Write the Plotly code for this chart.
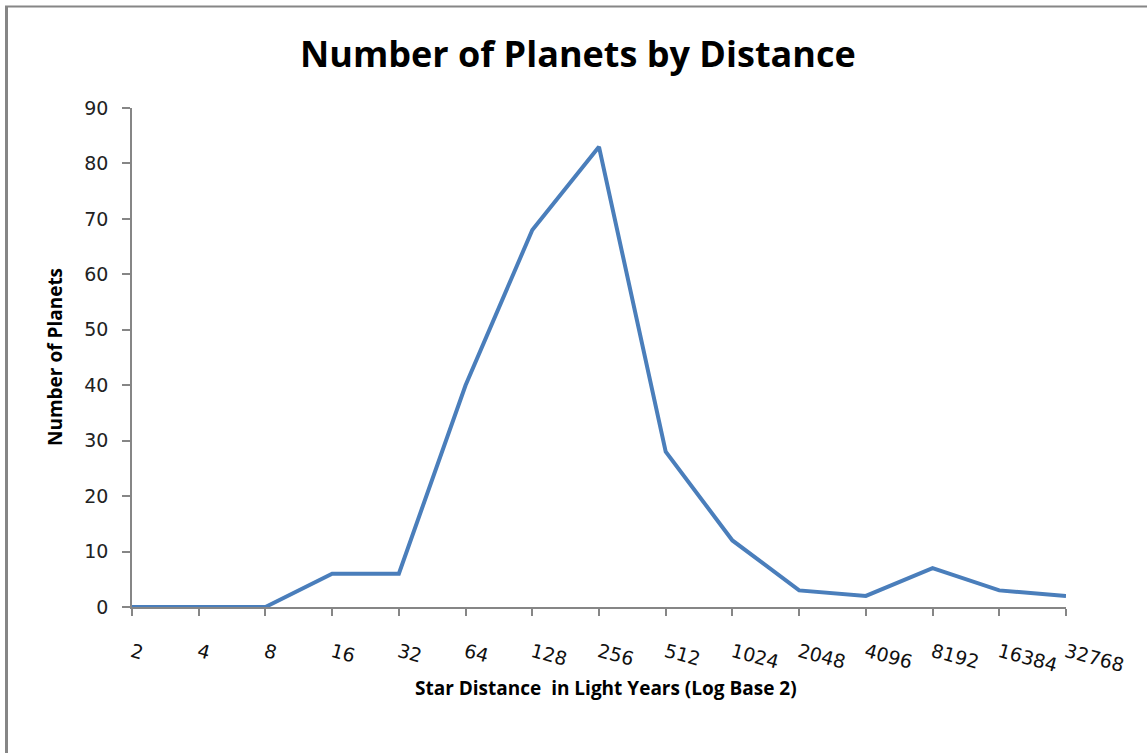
import plotly.graph_objects as go

# Star distance bins (light years, powers of two) and planet counts per bin
distances = ["2", "4", "8", "16", "32", "64", "128", "256", "512", "1024",
             "2048", "4096", "8192", "16384", "32768"]
planet_counts = [0, 0, 0, 6, 6, 40, 68, 83, 28, 12, 3, 2, 7, 3, 2]
y_ticks = [0, 10, 20, 30, 40, 50, 60, 70, 80, 90]

AXIS_GRAY = "#868686"
LINE_BLUE = "#4a7ebb"
BOLD_FONT = "Open Sans"

# plot area in pixels: x 132..1066, y 108..607
px_x = lambda p: (p - 132) / 934
px_y = lambda p: (607 - p) / 499

fig = go.Figure()
fig.add_trace(go.Scatter(
    x=distances, y=planet_counts, mode="lines",
    line=dict(color=LINE_BLUE, width=4),
    showlegend=False, hoverinfo="x+y",
))

fig.update_layout(
    width=1147, height=753,
    margin=dict(l=132, r=81, t=108, b=146),
    paper_bgcolor="white", plot_bgcolor="white",
    xaxis=dict(
        type="category", range=[0, 14],
        showgrid=False, zeroline=False,
        showline=True, linecolor=AXIS_GRAY, linewidth=2,
        ticks="outside", ticklen=7, tickcolor=AXIS_GRAY, tickwidth=1.5,
        tickangle=15, ticklabelstandoff=18,
        tickfont=dict(family="DejaVu Sans", size=19, color="#111111"),
    ),
    yaxis=dict(
        range=[0, 90], tickvals=y_ticks,
        showgrid=False, zeroline=False,
        showline=True, linecolor=AXIS_GRAY, linewidth=1.5,
        ticks="outside", ticklen=8, tickcolor=AXIS_GRAY, tickwidth=1.5,
        ticklabelstandoff=10,
        tickfont=dict(family="DejaVu Sans", size=19, color="#222222"),
    ),
    annotations=[
        dict(text="<b>Number of Planets by Distance</b>", xref="paper", yref="paper",
             x=px_x(578), y=px_y(53), xanchor="center", yanchor="middle",
             showarrow=False, font=dict(family=BOLD_FONT, size=36, color="black")),
        dict(text="<b>Number of Planets</b>", xref="paper", yref="paper",
             x=px_x(55), y=px_y(357), xanchor="center", yanchor="middle",
             textangle=-90, showarrow=False,
             font=dict(family=BOLD_FONT, size=19, color="black")),
        dict(text="<b>Star Distance  in Light Years (Log Base 2)</b>", xref="paper", yref="paper",
             x=px_x(606), y=px_y(688), xanchor="center", yanchor="middle",
             showarrow=False, font=dict(family=BOLD_FONT, size=19, color="black")),
    ],
    shapes=[
        # frame edges: left at x≈6, top at y≈6
        dict(type="line", xref="paper", yref="paper", x0=px_x(6.5), x1=px_x(6.5),
             y0=px_y(6), y1=px_y(753), line=dict(color=AXIS_GRAY, width=3)),
        dict(type="line", xref="paper", yref="paper", x0=px_x(5), x1=px_x(1147),
             y0=px_y(6.5), y1=px_y(6.5), line=dict(color=AXIS_GRAY, width=2)),
    ],
)

fig.write_html("out.html")
